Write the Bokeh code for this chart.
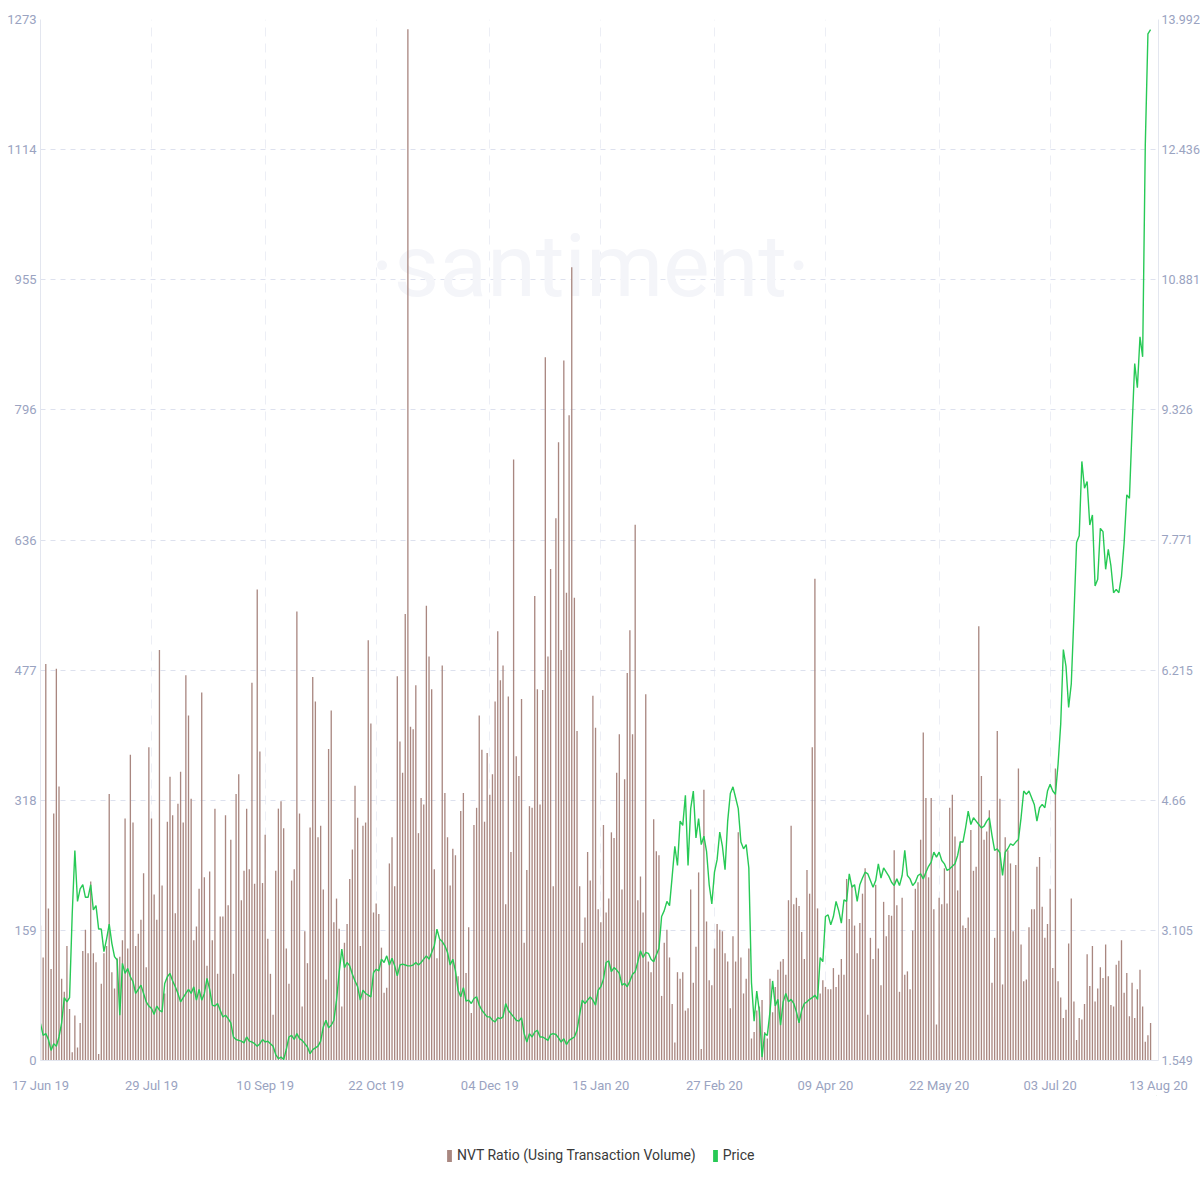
from datetime import datetime
import pandas as pd
from bokeh.plotting import figure
from bokeh.layouts import column
from bokeh.models import (Range1d, LinearAxis, FixedTicker, DatetimeTickFormatter,
                          Legend, LegendItem, Label, CustomJSTickFormatter)
from bokeh.embed import file_html
from bokeh.resources import INLINE

START = "2019-06-17"
X_END = datetime(2020, 8, 13)

# NVT ratio (using transaction volume), daily
nvt_jun_sep19 = [
    165, 126, 485, 186, 112, 302, 479, 335, 100, 84,
    140, 63, 10, 55, 16, 46, 134, 160, 131, 219,
    131, 120, 8, 94, 131, 140, 326, 108, 88, 125,
    127, 147, 296, 137, 374, 291, 140, 155, 172, 229,
    114, 383, 296, 203, 172, 502, 214, 82, 292, 347,
    300, 180, 314, 353, 291, 471, 422, 320, 147, 164,
    210, 450, 224, 116, 231, 147, 308, 106, 176, 176,
    300, 190, 270, 106, 326, 350, 196, 232, 308, 234,
    462, 216, 576, 378, 217, 276, 149, 106, 56, 232,
    308, 317, 284, 137, 94, 220, 234, 549, 302, 66,
    158, 119, 285, 469, 439, 273, 287, 209]
nvt_oct19_jan20 = [
    99, 381, 428, 169, 198, 161, 66, 144, 167, 222,
    258, 336, 297, 140, 287, 291, 514, 412, 181, 192,
    179, 138, 83, 89, 241, 273, 213, 470, 390, 352,
    546, 1261, 408, 405, 459, 278, 321, 313, 556, 494,
    454, 234, 125, 148, 483, 327, 273, 214, 259, 251,
    103, 305, 327, 107, 163, 58, 288, 309, 422, 380,
    292, 376, 325, 350, 439, 525, 465, 483, 191, 445,
    255, 735, 372, 348, 442, 144, 233, 311, 309, 568,
    454, 313, 453, 860, 494, 601, 213, 663, 756, 502,
    856, 572, 789, 970, 566, 403, 213, 144, 175, 255,
    220, 446, 407, 185, 169, 288, 181, 198]
nvt_jan_may20 = [
    279, 272, 352, 399, 209, 344, 474, 526, 399, 655,
    196, 225, 181, 448, 121, 108, 295, 256, 251, 79,
    144, 160, 126, 69, 22, 108, 100, 108, 61, 64,
    209, 95, 139, 230, 14, 331, 170, 98, 92, 137,
    167, 160, 158, 131, 121, 64, 152, 121, 279, 126,
    82, 100, 137, 27, 35, 61, 66, 74, 35, 27,
    100, 59, 90, 111, 121, 124, 105, 196, 287, 191,
    199, 189, 157, 124, 233, 204, 383, 589, 186, 82,
    98, 90, 87, 87, 113, 90, 105, 124, 105, 222,
    173, 215, 165, 131, 168, 204, 235, 56, 150, 124,
    215, 137, 92, 194, 152, 178]
nvt_may_aug20 = [
    177, 257, 190, 84, 199, 105, 109, 87, 159, 210,
    218, 270, 401, 321, 224, 321, 185, 44, 199, 191,
    235, 192, 309, 325, 274, 208, 268, 165, 162, 175,
    282, 232, 237, 531, 348, 270, 280, 306, 95, 150,
    403, 320, 93, 273, 257, 241, 158, 239, 357, 142,
    97, 99, 163, 185, 185, 237, 249, 188, 150, 167,
    210, 113, 357, 97, 77, 52, 62, 143, 198, 72,
    25, 52, 50, 69, 130, 91, 140, 72, 88, 114,
    101, 142, 103, 68, 66, 117, 122, 147, 83, 107,
    54, 95, 52, 87, 111, 66, 23, 31, 46]

# Price, daily
price_jun_sep19 = [
    1.99, 1.85, 1.87, 1.80, 1.67, 1.75, 1.72, 1.83, 2.00, 2.30,
    2.25, 2.30, 3.30, 4.06, 3.45, 3.60, 3.65, 3.50, 3.50, 3.65,
    3.35, 3.40, 3.12, 3.12, 2.85, 3.00, 3.18, 2.95, 2.79, 2.75,
    2.09, 2.71, 2.59, 2.65, 2.55, 2.49, 2.35, 2.40, 2.45, 2.35,
    2.25, 2.20, 2.17, 2.10, 2.20, 2.15, 2.13, 2.47, 2.55, 2.59,
    2.50, 2.43, 2.35, 2.25, 2.30, 2.35, 2.40, 2.35, 2.43, 2.27,
    2.40, 2.27, 2.35, 2.53, 2.40, 2.21, 2.20, 2.23, 2.15, 2.07,
    2.09, 2.05, 2.00, 1.83, 1.80, 1.79, 1.78, 1.76, 1.83, 1.78,
    1.77, 1.75, 1.72, 1.75, 1.80, 1.77, 1.78, 1.75, 1.72, 1.62,
    1.57, 1.59, 1.56, 1.68, 1.83, 1.85, 1.80, 1.87, 1.81, 1.79,
    1.75, 1.71, 1.63, 1.68, 1.70, 1.72, 1.78, 1.95]
price_oct19_jan20 = [
    2.03, 1.94, 1.97, 2.03, 2.27, 2.60, 2.88, 2.66, 2.72, 2.68,
    2.58, 2.50, 2.43, 2.27, 2.39, 2.35, 2.33, 2.31, 2.60, 2.64,
    2.62, 2.76, 2.72, 2.80, 2.69, 2.77, 2.68, 2.56, 2.69, 2.70,
    2.69, 2.68, 2.68, 2.69, 2.72, 2.69, 2.72, 2.76, 2.80, 2.76,
    2.84, 2.92, 3.12, 3.00, 2.97, 2.92, 2.84, 2.69, 2.76, 2.62,
    2.39, 2.31, 2.42, 2.26, 2.27, 2.23, 2.29, 2.31, 2.21, 2.15,
    2.11, 2.07, 2.07, 2.03, 2.01, 2.06, 2.05, 2.07, 2.23, 2.15,
    2.11, 2.07, 2.03, 2.02, 2.06, 1.87, 1.77, 1.87, 1.83, 1.89,
    1.91, 1.83, 1.83, 1.81, 1.79, 1.86, 1.87, 1.86, 1.82, 1.77,
    1.81, 1.74, 1.79, 1.81, 1.83, 1.91, 2.10, 2.27, 2.23, 2.27,
    2.31, 2.27, 2.21, 2.39, 2.43, 2.52, 2.72, 2.74]
price_jan_may20 = [
    2.61, 2.66, 2.63, 2.59, 2.45, 2.47, 2.43, 2.50, 2.58, 2.61,
    2.73, 2.86, 2.78, 2.84, 2.83, 2.76, 2.73, 2.81, 2.89, 3.27,
    3.34, 3.45, 3.40, 3.75, 4.11, 3.88, 4.41, 4.36, 4.72, 3.88,
    4.56, 4.77, 4.21, 4.44, 4.13, 4.23, 4.05, 3.65, 3.42, 3.80,
    3.95, 4.28, 4.11, 3.83, 4.41, 4.74, 4.82, 4.69, 4.56, 4.16,
    4.08, 4.13, 3.85, 2.48, 2.02, 2.38, 2.13, 1.59, 1.87, 1.85,
    2.13, 2.50, 2.20, 2.28, 1.97, 2.25, 2.35, 2.25, 2.28, 2.23,
    2.13, 2.00, 2.15, 2.23, 2.25, 2.28, 2.30, 2.33, 2.28, 2.78,
    2.73, 3.27, 3.29, 3.17, 3.27, 3.45, 3.34, 3.19, 3.47, 3.45,
    3.78, 3.62, 3.65, 3.45, 3.65, 3.73, 3.80, 3.78, 3.70, 3.62,
    3.70, 3.90, 3.73, 3.85, 3.80, 3.75]
price_may_aug20 = [
    3.68, 3.64, 3.72, 3.64, 3.76, 4.06, 3.76, 3.72, 3.64, 3.68,
    3.76, 3.78, 3.72, 3.80, 3.87, 3.92, 4.04, 3.98, 4.04, 3.94,
    3.90, 3.82, 3.84, 3.87, 3.90, 4.00, 4.16, 4.16, 4.33, 4.53,
    4.37, 4.45, 4.41, 4.37, 4.33, 4.35, 4.41, 4.45, 4.24, 4.06,
    4.08, 4.03, 3.76, 4.04, 4.08, 4.14, 4.12, 4.16, 4.19, 4.45,
    4.77, 4.73, 4.77, 4.69, 4.61, 4.41, 4.57, 4.61, 4.57, 4.77,
    4.85, 4.77, 4.73, 5.09, 5.57, 6.46, 6.26, 5.77, 6.05, 6.86,
    7.74, 7.82, 8.71, 8.39, 8.47, 7.95, 8.07, 7.22, 7.30, 7.91,
    7.87, 7.42, 7.66, 7.46, 7.14, 7.18, 7.14, 7.34, 7.74, 8.31,
    8.27, 9.11, 9.88, 9.59, 10.20, 9.96, 12.49, 13.82, 13.87]

nvt_ticks = [0, 159, 318, 477, 636, 796, 955, 1114, 1273]
price_ticks = [1.549, 3.105, 4.66, 6.215, 7.771, 9.326, 10.881, 12.436, 13.992]
date_ticks = ["2019-06-17", "2019-07-29", "2019-09-10", "2019-10-22", "2019-12-04",
              "2020-01-15", "2020-02-27", "2020-04-09", "2020-05-22", "2020-07-03",
              "2020-08-13"]
series_labels = ["NVT Ratio (Using Transaction Volume)", "Price"]

nvt = nvt_jun_sep19 + nvt_oct19_jan20 + nvt_jan_may20 + nvt_may_aug20
price = price_jun_sep19 + price_oct19_jan20 + price_jan_may20 + price_may_aug20
dates = pd.date_range(START, periods=len(nvt), freq="D")

FONT = "Roboto"
AXIS_COLOR = "#9aa3c1"
BAR_COLOR = "#a98780"
LINE_COLOR = "#27c955"

p = figure(frame_width=1118, frame_height=1041, x_axis_type="datetime",
           x_range=Range1d(pd.Timestamp(START), X_END), y_range=Range1d(0, 1273),
           output_backend="svg", toolbar_location=None,
           min_border_left=40, min_border_right=0, min_border_top=19,
           min_border_bottom=0, background_fill_color="white",
           border_fill_color="white")
p.outline_line_color = None
p.extra_y_ranges = {"price": Range1d(1.549, 13.992)}

wm = Label(x=550, y=795, x_units="screen", y_units="screen", text="·santiment·",
           text_font=FONT, text_font_size="88px", text_color="#f4f5f9",
           text_align="center", text_baseline="middle", level="underlay")
p.add_layout(wm)

bars = p.vbar(x=dates, top=nvt, width=0.5 * 86400000, fill_color=BAR_COLOR,
              line_color=None)
line = p.line(x=dates, y=price, y_range_name="price", line_color=LINE_COLOR,
              line_width=1.4)

# axes
p.xaxis.ticker = FixedTicker(ticks=[pd.Timestamp(d).value // 10**6 for d in date_ticks])
p.xaxis.formatter = DatetimeTickFormatter(days="%d %b %y", months="%d %b %y",
                                          years="%d %b %y")
p.yaxis.ticker = FixedTicker(ticks=nvt_ticks)
right = LinearAxis(y_range_name="price", ticker=FixedTicker(ticks=price_ticks),
                   formatter=CustomJSTickFormatter(code="return tick.toString();"))
p.add_layout(right, "right")

for ax in p.axis:
    ax.axis_line_color = "#e3e6ef"
    ax.major_tick_line_color = None
    ax.minor_tick_line_color = None
    ax.major_tick_out = 0
    ax.major_tick_in = 0
    ax.minor_tick_out = 0
    ax.major_label_text_font = FONT
    ax.major_label_text_font_size = "13px"
    ax.major_label_text_color = AXIS_COLOR
p.xaxis.major_label_standoff = 17
p.yaxis.major_label_standoff = 4
right.major_label_standoff = 3
right.major_label_text_font_size = "12.5px"

p.ygrid.grid_line_color = "#dde1ee"
p.ygrid.grid_line_dash = "5 5"
p.xgrid.grid_line_color = "#eceef5"
p.xgrid.grid_line_dash = "9 7"

# legend strip below the chart
lg = figure(width=1200, height=106, output_backend="svg", toolbar_location=None,
            x_range=Range1d(0, 1), y_range=Range1d(0, 1), min_border=0,
            background_fill_color="white", border_fill_color="white")
lg.axis.visible = False
lg.grid.visible = False
lg.outline_line_color = None
sw_nvt = lg.vbar(x=[5], top=[6], bottom=[5], width=1, fill_color=BAR_COLOR, line_color=None)
sw_price = lg.vbar(x=[5], top=[6], bottom=[5], width=1, fill_color=LINE_COLOR, line_color=None)
legend = Legend(items=[LegendItem(label=series_labels[0], renderers=[sw_nvt]),
                       LegendItem(label=series_labels[1], renderers=[sw_price])],
                orientation="horizontal", location=(406, 38),
                label_text_font=FONT, label_text_font_size="14px",
                label_text_color="#3a3a3a", glyph_width=6, glyph_height=15,
                label_standoff=5, spacing=16, padding=6, margin=0,
                border_line_color=None, background_fill_alpha=0)
lg.add_layout(legend)

layout = column(p, lg, spacing=0)
open("out.html", "w").write(file_html(layout, INLINE))
